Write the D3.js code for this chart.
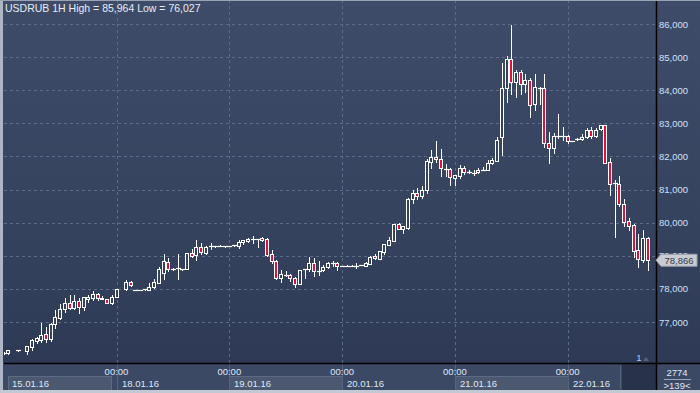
<!DOCTYPE html>
<html><head><meta charset="utf-8">
<script src="https://cdn.jsdelivr.net/npm/d3@7"></script>
<style>html,body{margin:0;padding:0;background:#2d3954;}svg{display:block;}</style>
</head><body>
<script>
// ---- data (hourly candles, index 0 = 15.01.16 00:00) ----
const opens = [76060,76055,null,76140,null,76134,76255,76427,76457,76629,76478,76931,77130,77384,77584,77433,77635,77463,77686,77716,77837,77686,77686,77584,
77746,null,77988,78199,77967,77967,77990,77967,78049,78189,78490,78822,78592,78640,78592,78592,79093,79023,79274,79093,79295,79295,79310,79295,
79300,79320,79305,79407,79437,79507,79500,79530,79507,79054,78852,78320,78420,78420,78340,78140,78590,78590,78792,78540,78570,78650,78770,78792,
78690,78700,78700,78700,78720,78700,78750,78994,78910,79125,79326,79447,79950,79810,79850,80700,80900,80800,81000,81842,81974,81914,81620,81612,
81360,81420,81640,81530,81500,81520,81600,81590,81793,81863,82597,84058,84934,84258,84541,84200,84310,83575,84058,84058,82397,82265,82618,82618,
82618,82470,82520,82517,82578,82799,82618,82830,82950,81823,81190,81168,80555,80050,79930,79175,78873,79527];
const highs = [76080,76150,null,76150,null,76280,76480,76557,76980,76859,76980,77363,77544,77716,77816,77816,77716,77760,77816,77937,77887,77800,77700,77816,
78000,null,78269,78250,77980,77980,78000,78180,78300,78660,79063,78920,78630,79063,78610,79093,79194,79476,79375,79300,79375,79310,79320,79310,
79310,79330,79480,79477,79540,79600,79510,79560,79540,79160,78870,78570,78540,78440,78360,78580,78600,78970,78940,78840,78720,78820,78850,78800,
78700,78710,78710,78780,78730,78800,78980,79050,79150,79360,79580,79960,80000,79910,80750,81000,81050,81100,81914,82195,82467,82220,81770,81660,
81450,81730,81720,81580,81590,81640,81670,81890,81944,82600,84813,85034,85964,84610,84610,84500,84380,84490,84100,84480,82730,82700,83273,82900,
82640,82480,82550,82680,82850,82900,82870,82960,82960,81960,81290,81400,80700,80150,79950,79658,79780,79560];
const lows = [76040,76027,null,76130,null,76030,76155,76375,76410,76406,76436,76810,77100,77312,77384,77400,77282,77360,77614,77665,77665,77680,77570,77550,
77740,null,77980,78100,77955,77955,77980,77960,78040,78180,78300,78550,78560,78300,78580,78592,78950,78870,79050,79050,79200,79280,79290,79280,
79290,79310,79250,79350,79430,79400,79274,79460,78994,78773,78300,78200,78400,78250,78070,78140,78330,78550,78390,78420,78540,78620,78700,78570,
78680,78690,78690,78640,78710,78690,78740,78910,78900,79060,79320,79440,79800,79700,79800,80600,80700,80750,80900,81650,81842,81400,81420,81140,
81130,81360,81480,81500,81450,81510,81590,81580,81760,81850,82044,83654,83900,83805,83900,83960,83200,83400,83575,82300,81793,82100,82550,82500,
82400,82460,82490,82500,82570,82560,82590,82800,81800,80840,79577,80500,79900,79780,78970,78670,78800,78570];
const closes = [76060,76146,null,76140,null,76276,76457,76508,76608,76487,76940,77142,77384,77584,77433,77635,77463,77746,77746,77837,77716,77716,77584,77766,
77988,null,78199,78109,77967,77967,77990,78069,78199,78592,78852,78592,78592,78640,78592,79093,78994,79274,79105,79274,79295,79295,79310,79295,
79300,79320,79407,79477,79507,79507,79500,79470,79020,78852,78320,78450,78420,78340,78150,78570,78590,78773,78540,78540,78670,78773,78770,78690,
78690,78700,78700,78700,78720,78773,78970,78920,79145,79350,79477,79950,79810,79900,80700,80900,80800,81000,81863,81993,81914,81642,81620,81370,
81440,81640,81540,81530,81500,81590,81600,81813,81893,82497,84058,84934,84258,84541,84188,84300,83554,84088,84058,82397,82265,82618,82618,82618,
82467,82470,82520,82597,82799,82627,82799,82950,81813,81160,81190,80555,80030,79910,79154,78895,79527,78866];
const priceTicks = [77000,78000,79000,80000,81000,82000,83000,84000,85000,86000];
const dayLabels = ["15.01.16","18.01.16","19.01.16","20.01.16","21.01.16","22.01.16"];
const dayStarts = [0,24,48,72,96,120];
const title = "USDRUB 1H High = 85,964 Low = 76,027";
const lastPrice = 78866;

// ---- layout ----
const W = 700, H = 393;
const plotL = 4, plotR = 656, plotT = 0, plotB = 363;
const fmt = v => d3.format(",")(v);

const svg = d3.select("body").append("svg").attr("width", W).attr("height", H)
  .style("font-family", "'Liberation Sans', Arial, sans-serif");

const defs = svg.append("defs");
const g1 = defs.append("linearGradient").attr("id","bg").attr("x1",0).attr("y1",0).attr("x2",0).attr("y2",1);
g1.append("stop").attr("offset","0%").attr("stop-color","#3f4c69");
g1.append("stop").attr("offset","55%").attr("stop-color","#36435f");
g1.append("stop").attr("offset","100%").attr("stop-color","#2c3853");
defs.append("clipPath").attr("id","clip").append("rect")
  .attr("x", plotL).attr("y", plotT).attr("width", plotR - plotL).attr("height", plotB - plotT);

svg.append("rect").attr("width", W).attr("height", H).attr("fill", "url(#bg)");

const x = d3.scaleLinear().domain([0, 137]).range([3.7, 3.7 + 137 * 4.7]);
const y = d3.scaleLinear().domain([77000, 86000]).range([322, 24]);
const ly = y(lastPrice);

// the price box hides the part of any tick label under it
const tc = defs.append("clipPath").attr("id","tickclip");
tc.append("rect").attr("x", 656).attr("y", 0).attr("width", 44).attr("height", ly - 6);
tc.append("rect").attr("x", 656).attr("y", ly + 7).attr("width", 44).attr("height", H);

// grid
const grid = svg.append("g").attr("stroke", "#5b6b8a").attr("stroke-dasharray", "3,3").attr("stroke-width", 1);
grid.selectAll("line.h").data(priceTicks).join("line")
  .attr("x1", plotL).attr("x2", plotR)
  .attr("y1", d => Math.round(y(d)) + 0.5).attr("y2", d => Math.round(y(d)) + 0.5);
grid.selectAll("line.v").data(dayStarts.slice(1)).join("line")
  .attr("x1", d => Math.round(x(d)) + 0.5).attr("x2", d => Math.round(x(d)) + 0.5)
  .attr("y1", 0).attr("y2", plotB);

// candles
const data = opens.map((o, i) => ({i, o, h: highs[i], l: lows[i], c: closes[i]})).filter(d => d.o != null);
const cg = svg.append("g").attr("clip-path", "url(#clip)");
data.forEach(d => {
  const cx = Math.round(x(d.i));
  cg.append("line").attr("x1", cx + 0.5).attr("x2", cx + 0.5)
    .attr("y1", Math.round(y(d.h))).attr("y2", Math.round(y(d.l)) + 1)
    .attr("stroke", "#ffffff").attr("stroke-width", 1);
  const yt = Math.round(y(Math.max(d.o, d.c))), yb = Math.round(y(Math.min(d.o, d.c)));
  if (yb - yt < 1) {
    cg.append("line").attr("x1", cx - 2).attr("x2", cx + 3)
      .attr("y1", yt + 0.5).attr("y2", yt + 0.5).attr("stroke", "#ffffff").attr("stroke-width", 1.2);
  } else {
    cg.append("rect").attr("x", cx - 1.5).attr("y", yt + 0.5).attr("width", 3).attr("height", yb - yt)
      .attr("fill", d.c < d.o ? "#e0103c" : "#35425e").attr("stroke", "#ffffff").attr("stroke-width", 1);
  }
});

// bottom axis panel
svg.append("rect").attr("x", 0).attr("y", plotB).attr("width", W).attr("height", H - plotB).attr("fill", "#3c4965");
dayStarts.forEach((s, k) => {
  if (k % 2 === 0 && k < 5) {
    const x0 = k === 0 ? 8 : Math.round(x(s));
    const x1 = k === 0 ? 111 : Math.round(x(dayStarts[k + 1]));
    svg.append("rect").attr("x", x0 + 0.5).attr("y", 376.5).attr("width", x1 - x0).attr("height", 14)
      .attr("fill", "#4b5870").attr("stroke", "#5d6a84");
  }
});
svg.selectAll("line.div").data(dayStarts.slice(1)).join("line")
  .attr("x1", d => Math.round(x(d)) + 0.5).attr("x2", d => Math.round(x(d)) + 0.5)
  .attr("y1", plotB).attr("y2", 390).attr("stroke", "#56637d");
svg.append("rect").attr("x", 622).attr("y", 364).attr("width", 34).attr("height", 26).attr("fill", "#28334b");
svg.append("line").attr("x1", 620.5).attr("x2", 620.5).attr("y1", 366).attr("y2", 389).attr("stroke", "#56637d");

const txtCol = "#dfe8f5";
svg.selectAll("text.hh").data(dayStarts.slice(1)).join("text")
  .attr("x", d => x(d)).attr("y", 375).attr("text-anchor", "middle")
  .attr("font-size", 9.5).attr("fill", txtCol).text("00:00");
svg.selectAll("text.dd").data(dayStarts).join("text")
  .attr("x", (d, k) => k === 0 ? 12 : Math.round(x(d)) + 5).attr("y", 387)
  .attr("font-size", 9.5).attr("fill", txtCol).text((d, k) => dayLabels[k]);

// right axis
svg.append("g").attr("clip-path", "url(#tickclip)")
  .selectAll("text").data(priceTicks).join("text")
  .attr("x", 659).attr("y", d => y(d) + 3.5).attr("font-size", 9.5).attr("fill", "#cfe0f8").text(d => fmt(d));

// separators
svg.append("line").attr("x1", plotR + 0.5).attr("x2", plotR + 0.5).attr("y1", 0).attr("y2", 390).attr("stroke", "#000").attr("stroke-width", 1.5);
svg.append("line").attr("x1", plotL).attr("x2", W).attr("y1", plotB + 0.5).attr("y2", plotB + 0.5).attr("stroke", "#000").attr("stroke-width", 1.5);

// last price label
svg.append("path")
  .attr("d", `M656,${ly} L661,${ly - 6} L697,${ly - 6} L697,${ly + 6} L661,${ly + 6} Z`)
  .attr("fill", "#c9ccd3").attr("stroke", "#9aa0aa");
svg.append("text").attr("x", 679).attr("y", ly + 3.5).attr("text-anchor", "middle")
  .attr("font-size", 9.5).attr("fill", "#333a46").text(fmt(lastPrice));

// bottom-right counters
svg.append("text").attr("x", 677).attr("y", 376).attr("text-anchor", "middle").attr("font-size", 9.5).attr("fill", txtCol).text("2774");
svg.append("line").attr("x1", 664).attr("x2", 691).attr("y1", 379.5).attr("y2", 379.5).attr("stroke", "#9aa6bb");
svg.append("text").attr("x", 677).attr("y", 389).attr("text-anchor", "middle").attr("font-size", 9.5).attr("fill", txtCol).text(">139<");

// "1" marker
svg.append("text").attr("x", 639).attr("y", 361).attr("text-anchor", "middle").attr("font-size", 9.5).attr("fill", "#b8cbe6").text("1");
svg.append("path").attr("d", "M643,361 L646,357 L649,361 Z").attr("fill", "#56627a");

// title
svg.append("text").attr("x", 5).attr("y", 12).attr("font-size", 10.5).attr("fill", "#e6ecf5").text(title);

// frame
svg.append("rect").attr("x", 0).attr("y", 0).attr("width", 3).attr("height", H).attr("fill", "#aeb6c5");
svg.append("rect").attr("x", 0).attr("y", 390).attr("width", W).attr("height", 3).attr("fill", "#c3c9d4");
svg.append("rect").attr("x", 0).attr("y", 0).attr("width", W).attr("height", 1).attr("fill", "#9aa3b4");
</script>
</body></html>
